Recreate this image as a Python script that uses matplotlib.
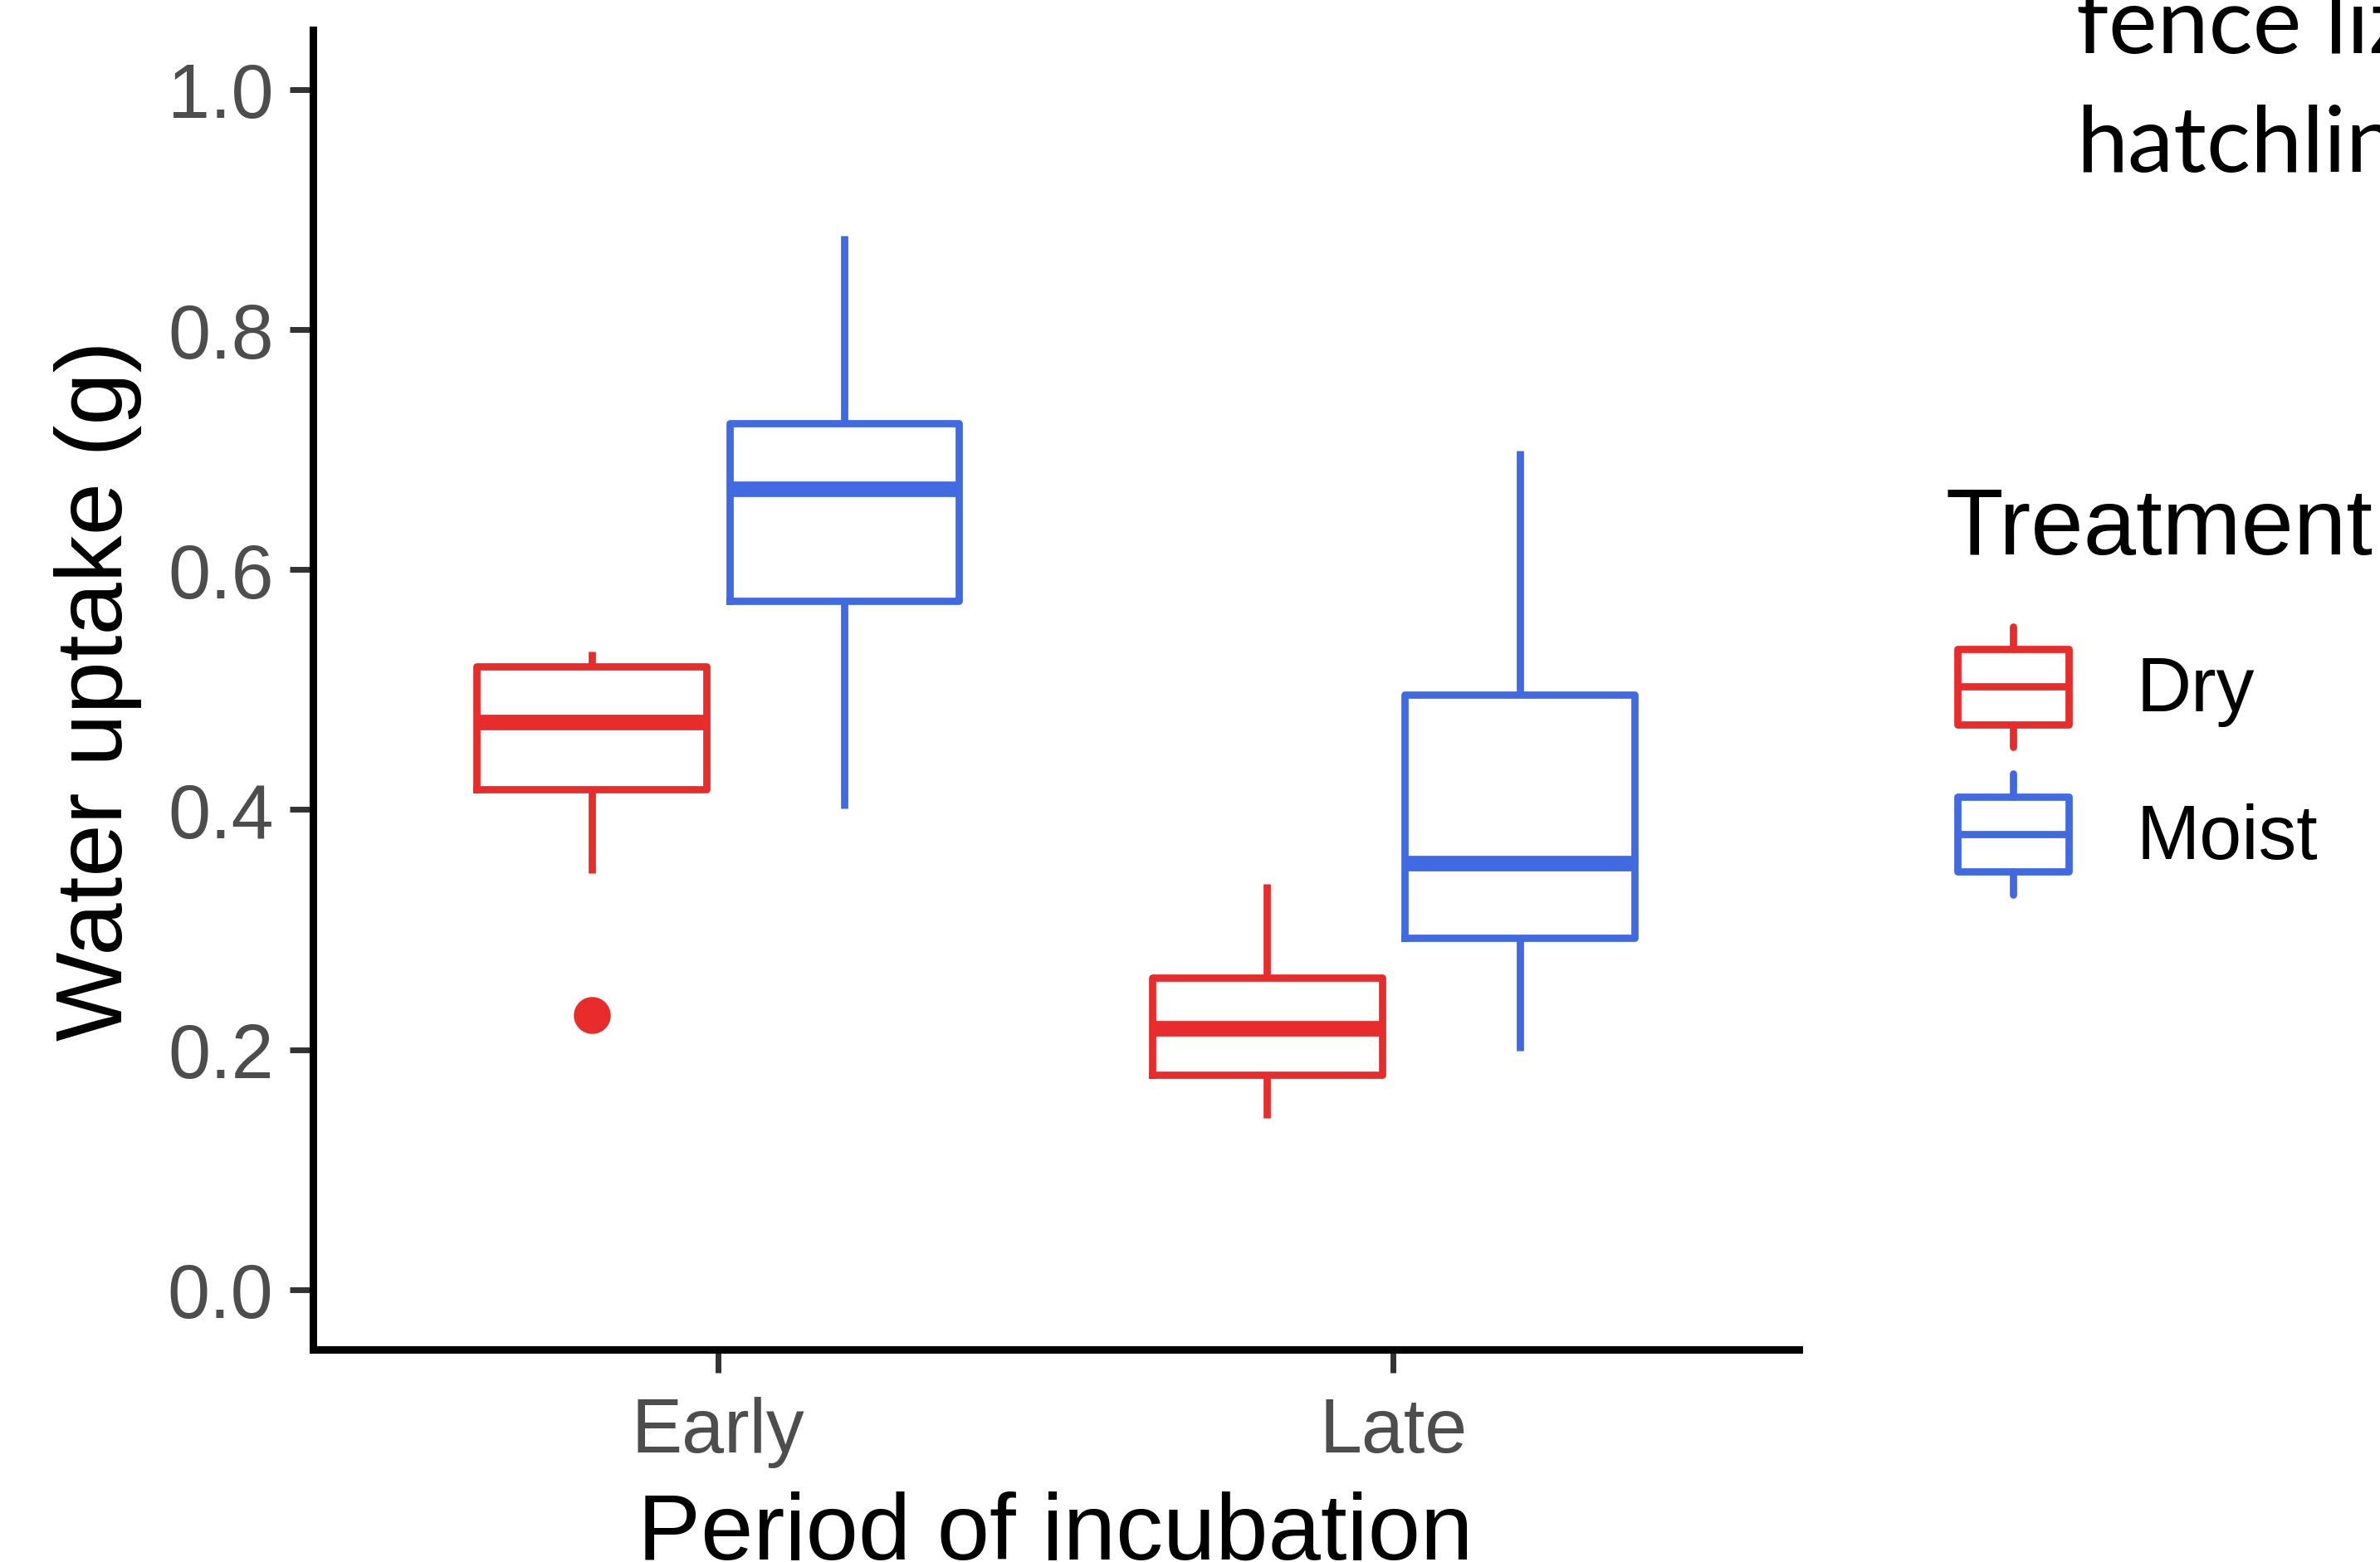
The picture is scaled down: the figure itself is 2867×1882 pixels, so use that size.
#!/usr/bin/env python3
# Water uptake boxplot: period of incubation x treatment

import matplotlib
matplotlib.use("Agg")
import matplotlib.pyplot as plt
from matplotlib.legend_handler import HandlerBase
from matplotlib.lines import Line2D
from matplotlib.patches import Rectangle

periods = ["Early", "Late"]
treatments = ["Dry", "Moist"]
colors = {"Dry": "#E82C2C", "Moist": "#4169E1"}

# five-number summaries, one value per period
whislo = {"Dry": [0.347, 0.143], "Moist": [0.401, 0.199]}
q1 = {"Dry": [0.417, 0.179], "Moist": [0.574, 0.293]}
med = {"Dry": [0.473, 0.218], "Moist": [0.667, 0.355]}
q3 = {"Dry": [0.519, 0.260], "Moist": [0.722, 0.496]}
whishi = {"Dry": [0.532, 0.338], "Moist": [0.878, 0.699]}
fliers = {"Dry": [[0.229], []], "Moist": [[], []]}

yticks = [0.0, 0.2, 0.4, 0.6, 0.8, 1.0]

plt.rcParams["font.family"] = ["Liberation Sans", "DejaVu Sans"]

BOX_LW = 6.3
MED_LW = 13.5


class BoxHandler(HandlerBase):
    """Draw a small boxplot glyph as legend key."""

    def create_artists(self, legend, orig_handle, xdescent, ydescent,
                       width, height, fontsize, trans):
        c = orig_handle.get_color()
        x0, y0 = -xdescent, -ydescent
        lo, hi = y0 + 0.19 * height, y0 + 0.81 * height
        xm = x0 + width / 2
        box = Rectangle((x0, lo), width, hi - lo, fill=False, edgecolor=c,
                        linewidth=BOX_LW, joinstyle="round", transform=trans)
        mid = Line2D([x0, x0 + width], [(lo + hi) / 2] * 2, color=c,
                     linewidth=BOX_LW, solid_capstyle="butt", transform=trans)
        w1 = Line2D([xm, xm], [y0, lo], color=c, linewidth=BOX_LW,
                    solid_capstyle="round", transform=trans)
        w2 = Line2D([xm, xm], [hi, y0 + height], color=c, linewidth=BOX_LW,
                    solid_capstyle="round", transform=trans)
        return [w1, w2, box, mid]


fig = plt.figure(figsize=(28.67, 18.83), dpi=100)
ax = fig.add_axes([0.1314, 0.1359, 0.6243, 0.8447])

offset = 0.187
box_w = 0.34
for j, t in enumerate(treatments):
    c = colors[t]
    stats = []
    for i in range(len(periods)):
        stats.append({"whislo": whislo[t][i], "q1": q1[t][i], "med": med[t][i],
                      "q3": q3[t][i], "whishi": whishi[t][i],
                      "fliers": fliers[t][i]})
    pos = [i + 1 + (offset if j else -offset) for i in range(len(periods))]
    ax.bxp(stats, positions=pos, widths=box_w, showcaps=False,
           patch_artist=False, manage_ticks=False,
           boxprops=dict(color=c, linewidth=BOX_LW, solid_joinstyle="round"),
           whiskerprops=dict(color=c, linewidth=BOX_LW,
                             solid_capstyle="butt"),
           medianprops=dict(color=c, linewidth=MED_LW, solid_capstyle="butt"),
           flierprops=dict(marker="o", markerfacecolor=c, markeredgecolor=c,
                           markersize=31, linestyle="none"))

ax.set_xlim(0.4, 2.6)
ax.set_ylim(-0.05, 1.05)
ax.set_xticks([1, 2])
ax.set_xticklabels(periods)
ax.set_yticks(yticks)
ax.set_yticklabels([f"{v:.1f}" for v in yticks])

for s in ["top", "right"]:
    ax.spines[s].set_visible(False)
for s in ["left", "bottom"]:
    ax.spines[s].set_linewidth(6.5)
    ax.spines[s].set_color("black")
    ax.spines[s].set_capstyle("projecting")

ax.tick_params(axis="both", length=20, width=5, color="#333333",
               labelsize=66, labelcolor="#4D4D4D")
ax.tick_params(axis="y", pad=14)
ax.tick_params(axis="x", pad=20)

ax.set_xlabel("Period of incubation", fontsize=82, labelpad=20)
ax.set_ylabel("Water uptake (g)", fontsize=82, labelpad=22)

handles = [Line2D([], [], color=colors[t]) for t in treatments]
leg = fig.legend(handles, treatments, handler_map={Line2D: BoxHandler()},
                 loc="upper left", bbox_to_anchor=(0.8175, 0.689),
                 frameon=False, fontsize=66, title="Treatment",
                 title_fontsize=82, handlelength=1.47, handleheight=2.07,
                 labelspacing=0.35, handletextpad=0.88, borderpad=0,
                 borderaxespad=0)
leg._legend_box.align = "left"
leg._legend_box.sep = 36
leg._legend_handle_box.pad = 10

# caption text cut off at the right edge
fig.text(0.8724, 0.966, "fence lizard", fontsize=80, family="Lato",
         va="baseline", ha="left")
fig.text(0.8724, 0.890, "hatchlings", fontsize=80, family="Lato",
         va="baseline", ha="left")

fig.savefig("out.png", dpi=100)
